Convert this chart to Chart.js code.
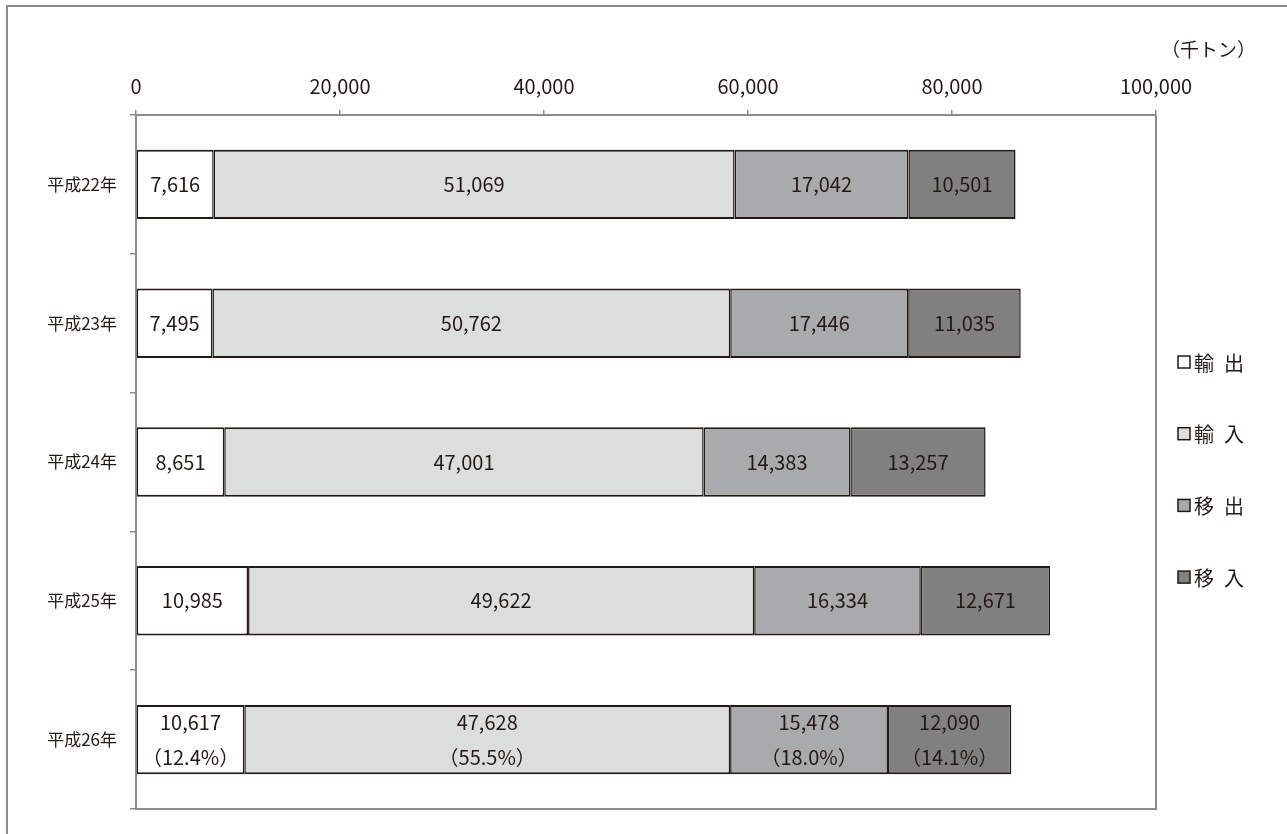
<!DOCTYPE html>
<html><head><meta charset="utf-8">
<script src="https://cdn.jsdelivr.net/npm/chart.js@4/dist/chart.umd.min.js"></script>
<style>html,body{margin:0;padding:0;background:#fff;}canvas{display:block;}</style>
</head><body>
<canvas id="c" width="1287" height="834"></canvas>
<script>
const categories = ['平成22年','平成23年','平成24年','平成25年','平成26年'];
const seriesNames = ['輸\u2002出','輸\u2002入','移\u2002出','移\u2002入'];
const exportIntl = [7616, 7495, 8651, 10985, 10617];
const importIntl = [51069, 50762, 47001, 49622, 47628];
const shipOut = [17042, 17446, 14383, 16334, 15478];
const shipIn = [10501, 11035, 13257, 12671, 12090];
const sharesLastYear = ['12.4%', '55.5%', '18.0%', '14.1%'];
const xMin = 0, xMax = 100000, xStep = 20000;
const unitLabel = '（千トン）';
const seriesColors = ['#ffffff', '#dcdddd', '#a9aaab', '#808080'];

const FONT = "'Noto Sans CJK JP','Noto Sans',sans-serif";
const TXT = '#231815';
const GRAY = '#8c8c8c';

const decor = {
  id: 'decor',
  beforeDraw(chart) {
    const ctx = chart.ctx;
    ctx.save();
    ctx.fillStyle = '#fff';
    ctx.fillRect(0, 0, chart.width, chart.height);
    ctx.strokeStyle = GRAY;
    ctx.lineWidth = 2;
    ctx.strokeRect(7, 6, chart.width + 20, chart.height + 20);
    ctx.restore();
  },
  afterDatasetsDraw(chart) {
    const ctx = chart.ctx;
    const a = chart.chartArea;
    ctx.save();
    ctx.strokeStyle = GRAY;
    ctx.lineWidth = 2;
    ctx.beginPath();
    ctx.moveTo(a.right, a.top);
    ctx.lineTo(a.right, a.bottom);
    ctx.lineTo(a.left - 1, a.bottom);
    ctx.stroke();
    // data labels
    ctx.fillStyle = TXT;
    ctx.font = '20px ' + FONT;
    ctx.textAlign = 'center';
    ctx.textBaseline = 'middle';
    const last = categories.length - 1;
    chart.data.datasets.forEach((ds, di) => {
      const meta = chart.getDatasetMeta(di);
      meta.data.forEach((bar, i) => {
        const cx = (bar.x + bar.base) / 2;
        const txt = ds.data[i].toLocaleString('en-US');
        if (i === last) {
          ctx.fillText(txt, cx, bar.y - 17);
          ctx.fillText('（' + sharesLastYear[di] + '）', cx, bar.y + 18);
        } else {
          ctx.fillText(txt, cx, bar.y);
        }
      });
    });
    ctx.restore();
  },
  afterDraw(chart) {
    const ctx = chart.ctx;
    ctx.save();
    ctx.fillStyle = TXT;
    ctx.font = '19px ' + FONT;
    ctx.textAlign = 'right';
    ctx.textBaseline = 'middle';
    ctx.fillText(unitLabel, 1256, 50);
    // legend
    const y0 = 362, gap = 71.7;
    ctx.textAlign = 'left';
    ctx.font = '20px ' + FONT;
    chart.data.datasets.forEach((ds, i) => {
      const y = y0 + gap * i;
      ctx.fillStyle = ds.backgroundColor;
      ctx.fillRect(1178, y - 6, 12, 12);
      ctx.strokeStyle = TXT;
      ctx.lineWidth = 1.5;
      ctx.strokeRect(1178, y - 6, 12, 12);
      ctx.fillStyle = TXT;
      ctx.fillText(ds.label, 1194, y + 1);
    });
    ctx.restore();
  }
};

const datasets = [exportIntl, importIntl, shipOut, shipIn].map((d, i) => ({
  label: seriesNames[i],
  data: d,
  backgroundColor: seriesColors[i],
  borderColor: TXT,
  borderWidth: { top: 2, bottom: 2, left: 1.5, right: 1.5 },
  borderSkipped: false,
  categoryPercentage: 0.5,
  barPercentage: 1
}));

new Chart(document.getElementById('c'), {
  type: 'bar',
  data: { labels: categories, datasets },
  plugins: [decor],
  options: {
    indexAxis: 'y',
    responsive: false,
    animation: false,
    devicePixelRatio: 1,
    layout: { padding: { top: 0, left: 0, right: 131, bottom: 25 } },
    plugins: { legend: { display: false }, tooltip: { enabled: false } },
    scales: {
      x: {
        position: 'top',
        stacked: true,
        min: xMin, max: xMax,
        afterFit(s) { s.height = 115; },
        ticks: {
          stepSize: xStep,
          color: TXT,
          font: { family: FONT, size: 20 },
          padding: 12,
          maxRotation: 0,
          callback: v => v.toLocaleString('en-US')
        },
        grid: { drawOnChartArea: false, drawTicks: true, tickLength: 5, color: GRAY, lineWidth: 1.5 },
        border: { display: true, color: GRAY, width: 2 }
      },
      y: {
        stacked: true,
        offset: true,
        afterFit(s) { s.width = 136; },
        ticks: { color: TXT, font: { family: FONT, size: 17 }, padding: 13 },
        grid: { offset: true, drawOnChartArea: false, drawTicks: true, tickLength: 6, color: GRAY, lineWidth: 1.5 },
        border: { display: true, color: GRAY, width: 2 }
      }
    }
  }
});
</script>
</body></html>
